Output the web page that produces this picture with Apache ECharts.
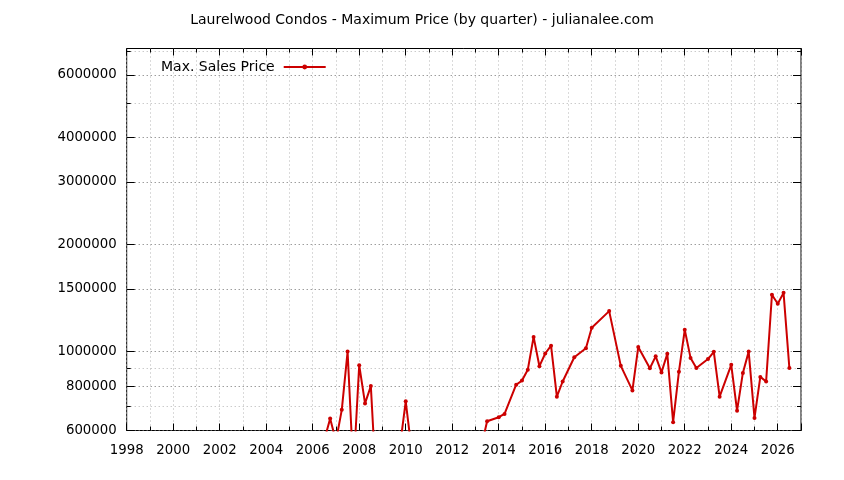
<!DOCTYPE html>
<html><head><meta charset="utf-8">
<script src="https://cdn.jsdelivr.net/npm/echarts@6/dist/echarts.min.js"></script>
<style>html,body{margin:0;padding:0;background:#fff}#c{width:844px;height:480px}</style>
</head><body><div id="c"></div>
<script>
const titleText = 'Laurelwood Condos - Maximum Price (by quarter) - julianalee.com';
const seriesName = 'Max. Sales Price';
// quarter positions (year fraction) and maximum price
const quarters = [2006.5, 2006.75, 2007.0, 2007.25, 2007.5, 2007.75, 2008.0, 2008.25, 2008.5, 2008.75,
  2009.75, 2010.0, 2010.25, 2013.25, 2013.5, 2014.0, 2014.25, 2014.75, 2015.0, 2015.25,
  2015.5, 2015.75, 2016.0, 2016.25, 2016.5, 2016.75, 2017.25, 2017.75, 2018.0, 2018.75,
  2019.25, 2019.75, 2020.0, 2020.5, 2020.75, 2021.0, 2021.25, 2021.5, 2021.75, 2022.0,
  2022.25, 2022.5, 2023.0, 2023.25, 2023.5, 2024.0, 2024.25, 2024.5, 2024.75, 2025.0,
  2025.25, 2025.5, 2025.75, 2026.0, 2026.25, 2026.5];
const maxPrices = [565000, 648000, 560000, 686000, 1000000, 460000, 916000, 715000, 800000, 400000,
  540000, 725000, 530000, 540000, 637000, 654000, 668000, 807000, 829000, 889000,
  1100000, 910000, 988000, 1039000, 747000, 824000, 964000, 1022000, 1167000, 1300000,
  912000, 778000, 1030000, 898000, 970000, 874000, 986000, 633000, 878000, 1152000,
  960000, 899000, 953000, 999000, 747000, 918000, 682000, 871000, 1000000, 651000,
  849000, 824000, 1445000, 1363000, 1463000, 899000];
const yMajorTicks = [600000, 800000, 1000000, 1500000, 2000000, 3000000, 4000000, 6000000];
const yMinorTicks = [700000, 900000, 5000000, 7000000];
const xMin = 1998, xMax = 2027;

const FONT = 'DejaVu Sans';
const LINE = '#cc0000';
const GRID_LIGHT = '#b4b4b4';
const GRID_DARK = '#707070';
const Y_MIN = 600000, Y_MAX = 7120000;

function xAxisCfg(pos, interval, len, labels, split) {
  return {
    type: 'value', min: xMin, max: xMax, interval: interval, position: pos, gridIndex: 0,
    axisLine: { show: false },
    axisTick: { show: true, inside: true, length: len, lineStyle: { color: '#000', width: 1 } },
    axisLabel: {
      show: labels, margin: 14, color: '#000', fontFamily: FONT, fontSize: 13.3,
      formatter: v => (Math.round(v) % 2 === 0 ? String(Math.round(v)) : '')
    },
    splitLine: { show: split, lineStyle: { color: GRID_LIGHT, width: 1, type: [1, 3] } }
  };
}
function yAxisCfg(pos, ticks, len, labels, splitColor) {
  return {
    type: 'log', logBase: 10, min: Y_MIN, max: Y_MAX, position: pos, gridIndex: 0,
    axisLine: { show: false },
    axisTick: { show: true, inside: true, length: len, customValues: ticks, lineStyle: { color: '#000', width: 1 } },
    axisLabel: {
      show: labels, customValues: ticks, margin: 10, color: '#000', fontFamily: FONT, fontSize: 13.3,
      formatter: v => String(Math.round(v))
    },
    splitLine: { show: !!splitColor, lineStyle: { color: splitColor || '#000', width: 1, type: [1, 3] } }
  };
}

const chart = echarts.init(document.getElementById('c'), null, { renderer: 'canvas' });
chart.setOption({
  animation: false,
  backgroundColor: '#fff',
  title: {
    text: titleText, left: 'center', top: 13, padding: 0,
    textStyle: { fontFamily: FONT, fontSize: 14, fontWeight: 'normal', color: '#000' }
  },
  legend: {
    data: [seriesName], left: 161, top: 60, align: 'right', padding: 0,
    itemWidth: 42, itemHeight: 6,
    textStyle: { fontFamily: FONT, fontSize: 14, color: '#000', padding: [0, 4, 0, 0] }
  },
  grid: {
    left: 126.7, right: 43, top: 48.5, bottom: 49.5,
    show: true, borderColor: '#000', borderWidth: 1, backgroundColor: 'transparent'
  },
  xAxis: [
    xAxisCfg('bottom', 2, 7, true, false),
    xAxisCfg('bottom', 1, 4, false, true),
    xAxisCfg('top', 2, 7, false, false),
    xAxisCfg('top', 1, 4, false, false)
  ],
  yAxis: [
    yAxisCfg('left', yMajorTicks, 8, true, GRID_DARK),
    yAxisCfg('left', yMinorTicks, 4, false, GRID_LIGHT),
    yAxisCfg('right', yMajorTicks, 8, false, null),
    yAxisCfg('right', yMinorTicks, 4, false, null)
  ],
  series: [{
    name: seriesName, type: 'line', xAxisIndex: 0, yAxisIndex: 0,
    data: quarters.map((q, i) => [q, maxPrices[i]]),
    clip: true, showSymbol: true, symbol: 'circle', symbolSize: 4,
    itemStyle: { color: LINE },
    lineStyle: { color: LINE, width: 2 },
    emphasis: { disabled: true }
  }]
});
</script>
</body></html>
